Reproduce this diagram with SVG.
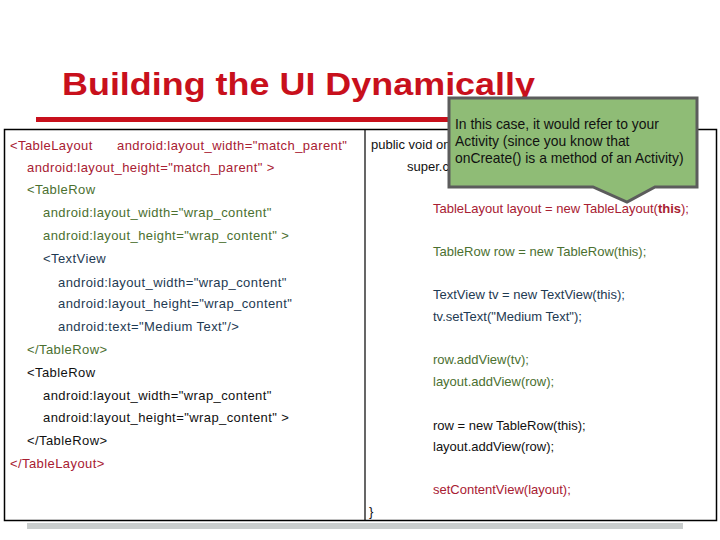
<svg xmlns="http://www.w3.org/2000/svg" width="720" height="540" viewBox="0 0 720 540">
<style>
.t{font-family:"Liberation Sans",Arial,sans-serif;font-size:13px}
.l{letter-spacing:0.42px}
.r{fill:#a82032}
.g{fill:#4b7030}
.b{fill:#1e3a52}
.k{fill:#111}
.c{font-family:"Liberation Sans",Arial,sans-serif;font-size:13.9px;fill:#111}
</style>
<rect width="720" height="540" fill="#fff"/>
<g id="title">
<text x="62" y="95" font-family="Liberation Sans,Arial,sans-serif" font-weight="bold" font-size="32" fill="#c8101c" textLength="473" lengthAdjust="spacingAndGlyphs">Building the UI Dynamically</text>
<rect x="36" y="117" width="440" height="5" fill="#c8101c"/>
</g>
<g id="table">
<rect x="4.5" y="129.5" width="712" height="391" fill="none" stroke="#000" stroke-width="1.5"/>
<line x1="365" y1="129.5" x2="365" y2="520.5" stroke="#000" stroke-width="1.2"/>
</g>
<g id="xml">
<text class="t l r" x="10" y="150">&lt;TableLayout<tspan x="117">android:layout_width="match_parent"</tspan></text>
<text class="t l r" x="27" y="172">android:layout_height="match_parent" &gt;</text>
<text class="t l g" x="27" y="194">&lt;TableRow</text>
<text class="t l g" x="43" y="217">android:layout_width="wrap_content"</text>
<text class="t l g" x="43" y="240">android:layout_height="wrap_content" &gt;</text>
<text class="t l b" x="43" y="263">&lt;TextView</text>
<text class="t l b" x="58" y="287">android:layout_width="wrap_content"</text>
<text class="t l b" x="58" y="308">android:layout_height="wrap_content"</text>
<text class="t l b" x="58" y="331">android:text="Medium Text"/&gt;</text>
<text class="t l g" x="27" y="354">&lt;/TableRow&gt;</text>
<text class="t l k" x="27" y="377">&lt;TableRow</text>
<text class="t l k" x="43" y="400">android:layout_width="wrap_content"</text>
<text class="t l k" x="43" y="422">android:layout_height="wrap_content" &gt;</text>
<text class="t l k" x="27" y="445">&lt;/TableRow&gt;</text>
<text class="t l r" x="10" y="468">&lt;/TableLayout&gt;</text>
</g>
<g id="java">
<text class="t k" x="371" y="149" font-size="12">public void on</text>
<text class="t k" x="407" y="171" font-size="12">super.c</text>
<text class="t r" x="433" y="213" font-size="13.2">TableLayout layout = new TableLayout(<tspan font-weight="bold">this</tspan>);</text>
<text class="t g" x="433" y="256">TableRow row = new TableRow(this);</text>
<text class="t b" x="433" y="299">TextView tv = new TextView(this);</text>
<text class="t b" x="433" y="321">tv.setText("Medium Text");</text>
<text class="t g" x="433" y="364">row.addView(tv);</text>
<text class="t g" x="433" y="386">layout.addView(row);</text>
<text class="t k" x="433" y="430">row = new TableRow(this);</text>
<text class="t k" x="433" y="451">layout.addView(row);</text>
<text class="t r" x="433" y="494">setContentView(layout);</text>
<text class="t k" x="369" y="516">}</text>
</g>
<g id="callout">
<path d="M449,98 H697 V187 H655 L627,202 L593,187 H449 Z" fill="#8fbc76" stroke="#5c5c5c" stroke-width="3" stroke-linejoin="miter"/>
<text class="c" x="455" y="129">In this case, it would refer to your</text>
<text class="c" x="455" y="146">Activity (since you know that</text>
<text class="c" x="455" y="163">onCreate() is a method of an Activity)</text>
</g>
<rect id="footer" x="27" y="523" width="656" height="6" fill="#c9cdcd"/>
</svg>
